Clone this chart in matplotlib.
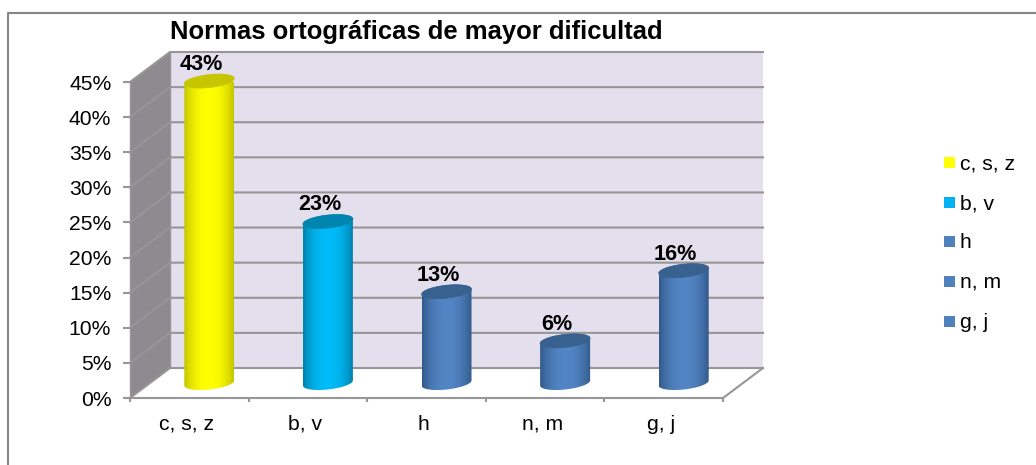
import numpy as np
import matplotlib
matplotlib.use("Agg")
import matplotlib.pyplot as plt
from matplotlib.patches import Polygon, Rectangle
from matplotlib.lines import Line2D
from matplotlib.colors import LinearSegmentedColormap

plt.rcParams['font.family'] = ['Liberation Sans', 'DejaVu Sans']

categories = ["c, s, z", "b, v", "h", "n, m", "g, j"]
values = [43, 23, 13, 6, 16]
y_ticks = [0, 5, 10, 15, 20, 25, 30, 35, 40, 45]
title = "Normas ortográficas de mayor dificultad"

# edge, centre, top of each cylinder
bar_colors = [("#C4C400", "#FFFF00", "#C6C600"),
              ("#0083AE", "#00BCF8", "#0084B0"),
              ("#325A8A", "#5285C4", "#38618F"),
              ("#325A8A", "#5285C4", "#38618F"),
              ("#325A8A", "#5285C4", "#38618F")]
legend_colors = ["#FFFF00", "#00B0F0", "#4F81BD", "#4F81BD", "#4F81BD"]

W, H = 1036, 465
fig = plt.figure(figsize=(W / 100, H / 100), dpi=100, facecolor="white")

# outer frame
fig.add_artist(Line2D([7.5 / W, 7.5 / W, 1], [0, 1 - 13.5 / H, 1 - 13.5 / H],
                      color="#868686", lw=1.5, transform=fig.transFigure))

# axes is the front plane of the 3d box
left, right, bottom, top = 130, 723, 398, 82
ax = fig.add_axes([left / W, 1 - bottom / H, (right - left) / W, (bottom - top) / H])
ax.set_xlim(0, len(categories))
ax.set_ylim(0, 45)
ax.patch.set_visible(False)
for s in ax.spines.values():
    s.set_visible(False)

px = len(categories) / (right - left)
py = 45 / (bottom - top)
dx = 40 * px
dy = 30 * py
n = len(categories)
grid = "#969696"

# back wall, side wall, floor
ax.add_patch(Polygon([(dx, dy), (n + dx, dy), (n + dx, 45 + dy), (dx, 45 + dy)],
                     fc="#E4DFEC", ec="none", clip_on=False, zorder=1))
ax.add_patch(Polygon([(0, 0), (dx, dy), (dx, 45 + dy), (0, 45)],
                     fc="#8E8B90", ec="none", clip_on=False, zorder=1))

for t in y_ticks:
    ax.plot([0, dx, n + dx], [t, t + dy, t + dy], color=grid, lw=1.5,
            clip_on=False, zorder=2, solid_joinstyle="miter")
ax.plot([dx, dx], [dy, 45 + dy], color=grid, lw=1, clip_on=False, zorder=2)
ax.plot([0, n, n + dx], [0, 0, dy], color=grid, lw=1.5, clip_on=False, zorder=2)
ax.plot([0, 0], [0, 45], color=grid, lw=1, clip_on=False, zorder=2)

ax.set_xticks(range(n + 1))
ax.set_xticklabels([])
ax.set_yticks(y_ticks)
ax.set_yticklabels(["%d%%" % t for t in y_ticks], fontsize=15.2, color="#000000")
ax.tick_params(axis="x", color=grid, width=1.5, length=3)
ax.tick_params(axis="y", color=grid, width=1.5, length=5, pad=8.5)
for i, c in enumerate(categories):
    ax.text(i + 0.5 - 3 * px, -26 * py, c, ha="center", va="center", fontsize=15.2, clip_on=False)

# cylinders
rx = 25 * px
ry = 6.5 * py
tilt = 2.6 * py  # right side of the ellipse sits higher
th = np.linspace(0, 2 * np.pi, 80)
for i, v in enumerate(values):
    cx = i + 0.5 + dx / 2
    y0 = dy / 2
    ex = rx * np.cos(th)
    ey = ry * np.sin(th) + tilt * np.cos(th)
    lo = th >= np.pi
    hi = th <= np.pi
    body = np.c_[np.r_[cx + ex[lo], cx + ex[hi]], np.r_[y0 + ey[lo], y0 + v + ey[hi]]]
    edge, mid, cap = bar_colors[i]
    grad = np.abs(np.linspace(-1, 1, 128))[None, :] ** 2.2
    img = ax.imshow(grad, cmap=LinearSegmentedColormap.from_list("c", [mid, edge]),
                    extent=[cx - rx, cx + rx, y0 - ry - tilt, y0 + v + ry + tilt],
                    aspect="auto", zorder=3, clip_on=True)
    clip = Polygon(body, transform=ax.transData, fc="none", ec="none")
    ax.add_patch(clip)
    img.set_clip_path(clip)
    ax.add_patch(Polygon(np.c_[cx + ex, y0 + v + ey], fc=cap, ec=cap, lw=0.5,
                         zorder=4, clip_on=False))
    ax.text(cx - 8 * px, y0 + v + 16.5 * py, "%d%%" % v, ha="center", va="center",
            fontsize=15.6, fontweight="bold", zorder=5, clip_on=False)
ax.set_xlim(0, n)
ax.set_ylim(0, 45)

fig.text(416 / W, 1 - 32 / H, title, ha="center", va="center", fontsize=18.45, fontweight="bold")

# legend
legend_y = [162.5, 202.5, 241.5, 281.5, 321.5]
for name, col, ly in zip(categories, legend_colors, legend_y):
    fig.add_artist(Rectangle((944 / W, 1 - (ly + 5.5) / H), 11 / W, 11 / H, fc=col, ec="none",
                             transform=fig.transFigure))
    fig.text(959.5 / W, 1 - (ly + 1) / H, name, ha="left", va="center", fontsize=15.2)

fig.savefig("out.png", dpi=100)
